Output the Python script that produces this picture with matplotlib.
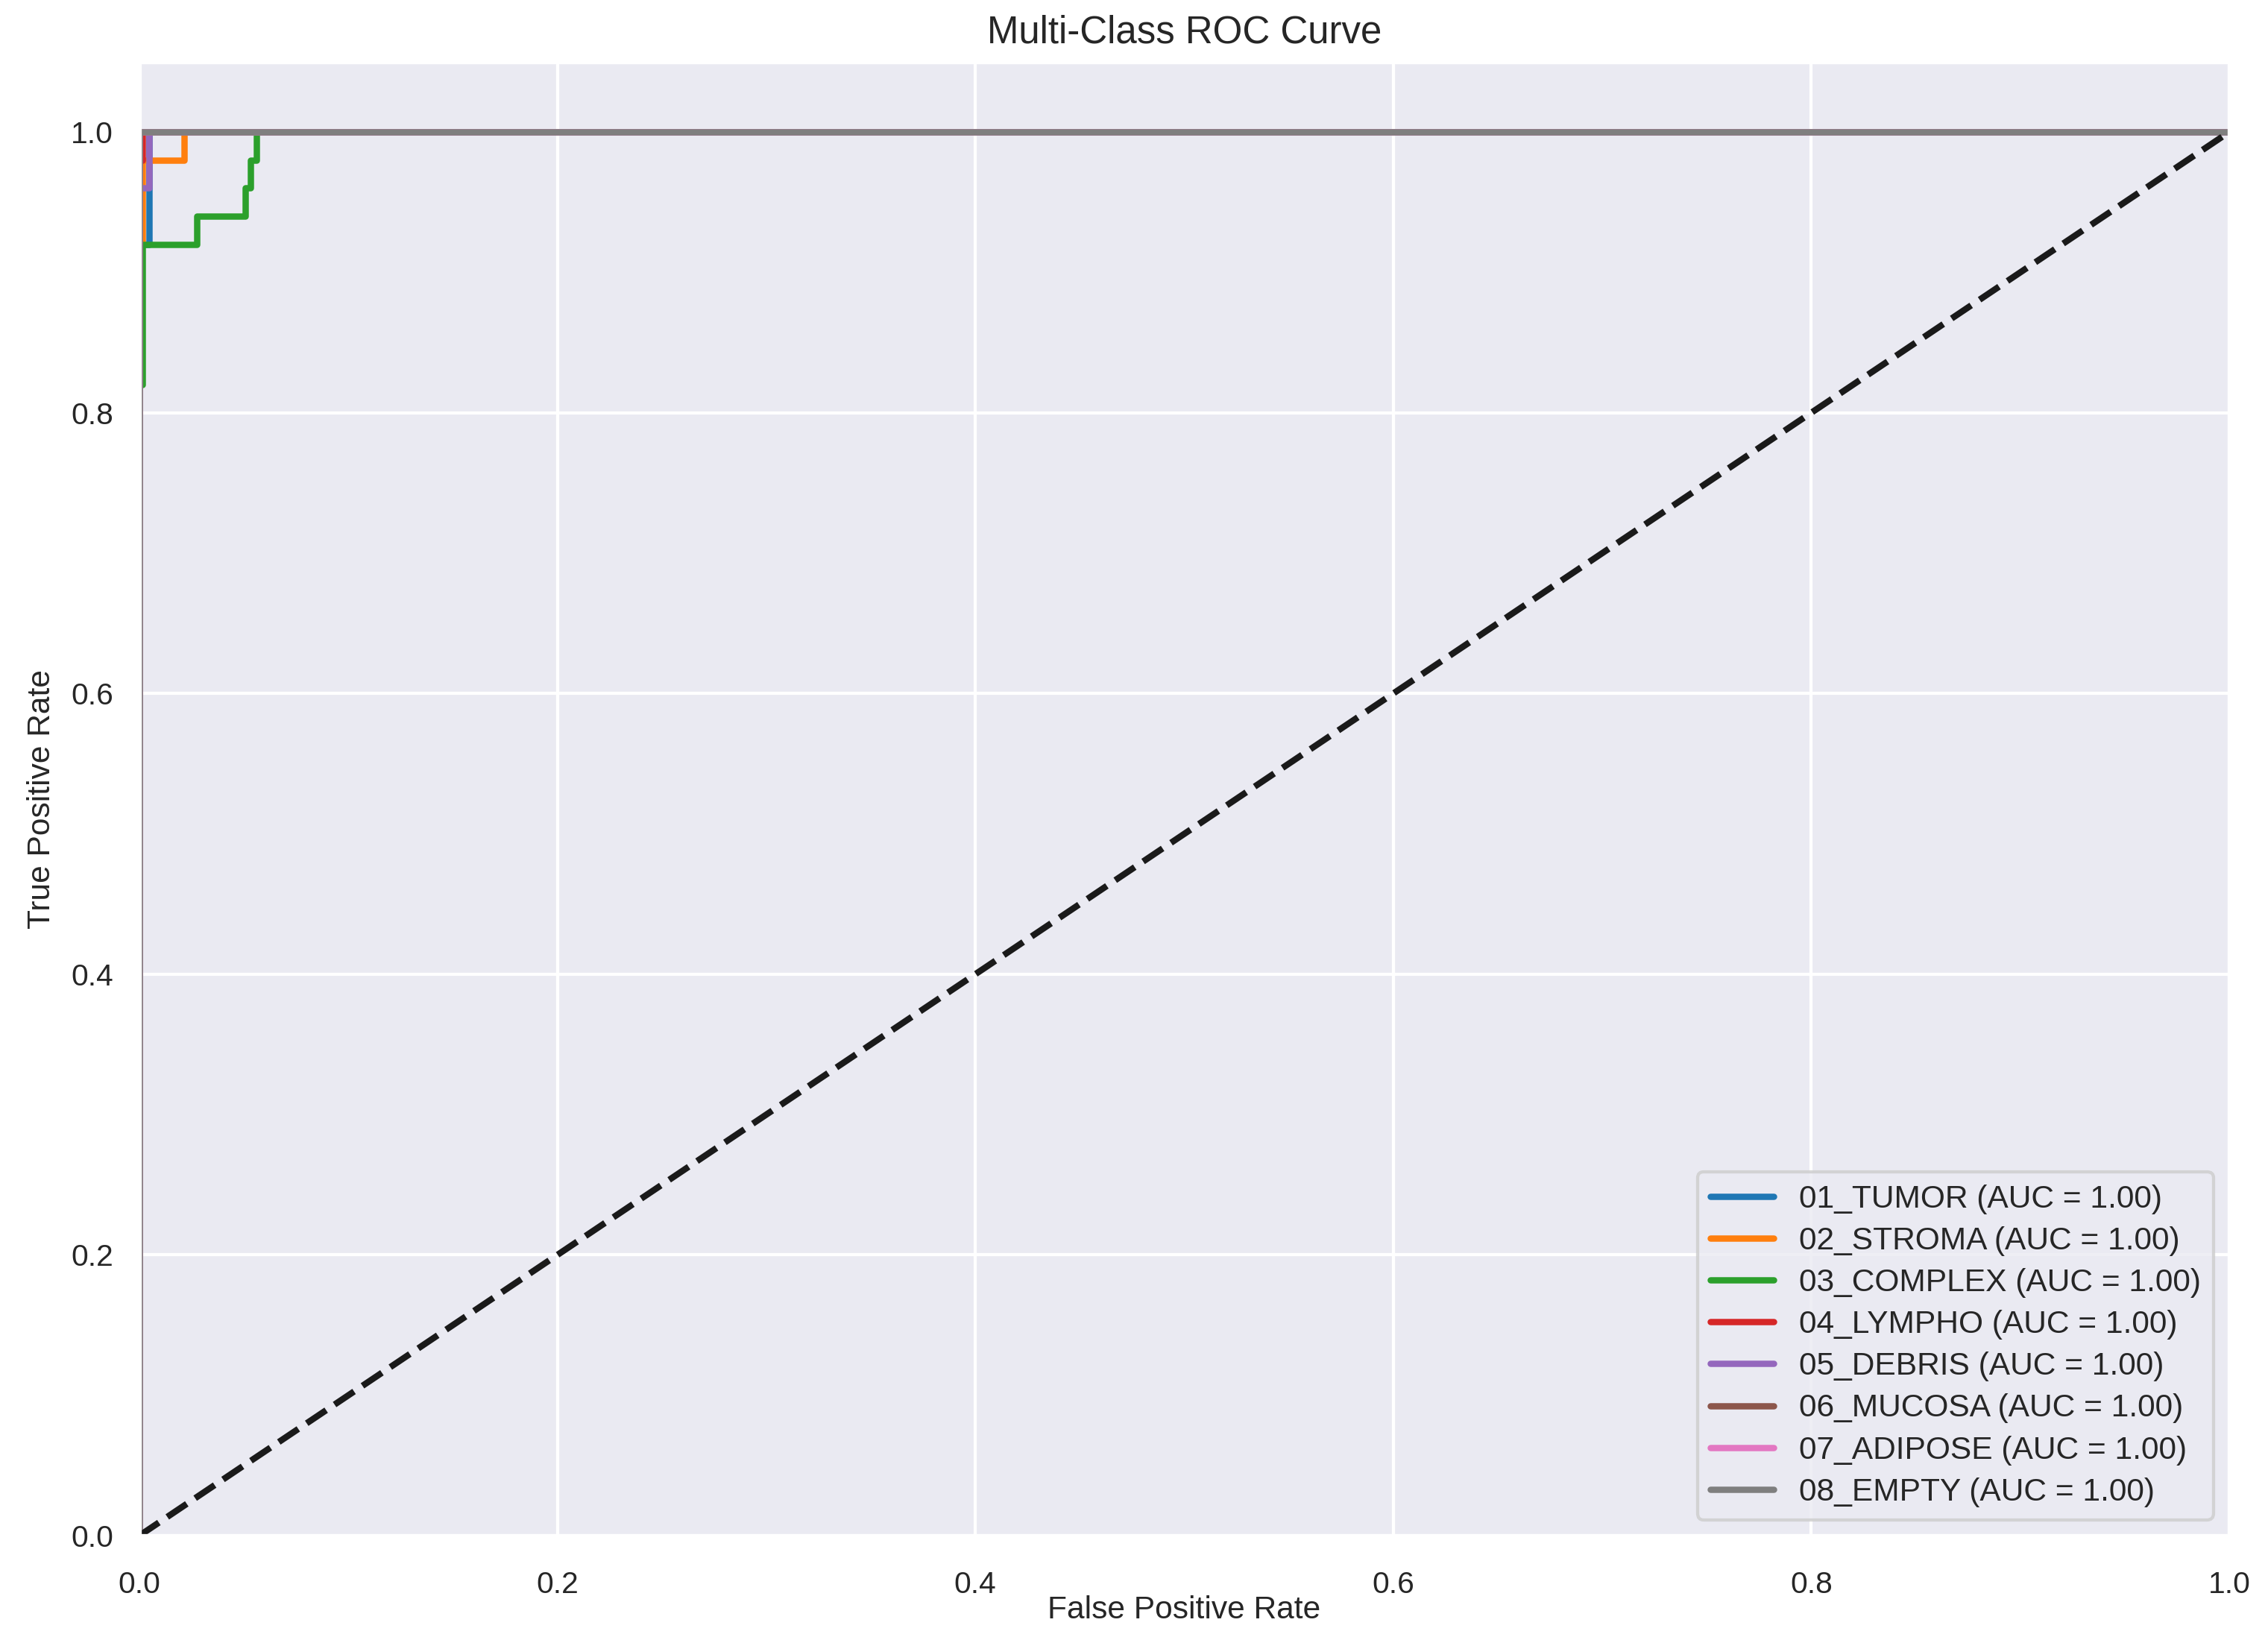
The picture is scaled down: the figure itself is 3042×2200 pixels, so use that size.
import matplotlib
matplotlib.use("Agg")
import matplotlib.pyplot as plt
import seaborn as sns

sns.set_theme(style="darkgrid")
plt.rcParams['font.family'] = ['Liberation Sans', 'DejaVu Sans']

classes = ["01_TUMOR", "02_STROMA", "03_COMPLEX", "04_LYMPHO",
           "05_DEBRIS", "06_MUCOSA", "07_ADIPOSE", "08_EMPTY"]
auc_values = [1.00, 1.00, 1.00, 1.00, 1.00, 1.00, 1.00, 1.00]

fpr_tumor = [0, 0, 0.0046, 0.0046, 1]
tpr_tumor = [0, 0.92, 0.92, 1.0, 1.0]
fpr_stroma = [0, 0, 0.0016, 0.0016, 0.0214, 0.0214, 1]
tpr_stroma = [0, 0.92, 0.92, 0.98, 0.98, 1.0, 1.0]
fpr_complex = [0, 0, 0.0016, 0.0016, 0.0275, 0.0275, 0.0507, 0.0507, 0.053, 0.053, 0.056, 0.056, 1]
tpr_complex = [0, 0.82, 0.82, 0.92, 0.92, 0.94, 0.94, 0.96, 0.96, 0.98, 0.98, 1.0, 1.0]
fpr_lympho = [0, 0, 0.0016, 0.0016, 1]
tpr_lympho = [0, 0.98, 0.98, 1.0, 1.0]
fpr_debris = [0, 0, 0.0046, 0.0046, 1]
tpr_debris = [0, 0.96, 0.96, 1.0, 1.0]
fpr_mucosa = [0, 0, 1]
tpr_mucosa = [0, 1.0, 1.0]
fpr_adipose = [0, 0, 1]
tpr_adipose = [0, 1.0, 1.0]
fpr_empty = [0, 0, 1]
tpr_empty = [0, 1.0, 1.0]

fprs = [fpr_tumor, fpr_stroma, fpr_complex, fpr_lympho, fpr_debris, fpr_mucosa, fpr_adipose, fpr_empty]
tprs = [tpr_tumor, tpr_stroma, tpr_complex, tpr_lympho, tpr_debris, tpr_mucosa, tpr_adipose, tpr_empty]
colors = ["#1f77b4", "#ff7f0e", "#2ca02c", "#d62728", "#9467bd", "#8c564b", "#e377c2", "#7f7f7f"]

DPI = 306
fig = plt.figure(figsize=(3042 / DPI + 1e-4, 2200 / DPI + 1e-4), dpi=DPI)
ax = fig.add_axes([187 / 3042, 1 - 2060 / 2200, (2990 - 187) / 3042, (2060 - 83) / 2200])

for name, auc, f, t, c in zip(classes, auc_values, fprs, tprs, colors):
    ax.plot(f, t, color=c, lw=2, label=f"{name} (AUC = {auc:.2f})")

ax.plot([0, 1], [0, 1], 'k--', lw=2)
ax.set_xlim(0.0, 1.0)
ax.set_ylim(0.0, 1.05)
ax.set_xlabel("False Positive Rate", fontsize=10, labelpad=-1.2)
ax.set_ylabel("True Positive Rate", fontsize=10, labelpad=4.5)
ax.set_title("Multi-Class ROC Curve", fontsize=12)
ax.tick_params(axis='x', labelsize=9.6, pad=5)
ax.tick_params(axis='y', labelsize=9.6, pad=2.2)
ax.legend(loc="lower right", fontsize=10, labelspacing=0.38)

fig.savefig("out.png", dpi=DPI)
